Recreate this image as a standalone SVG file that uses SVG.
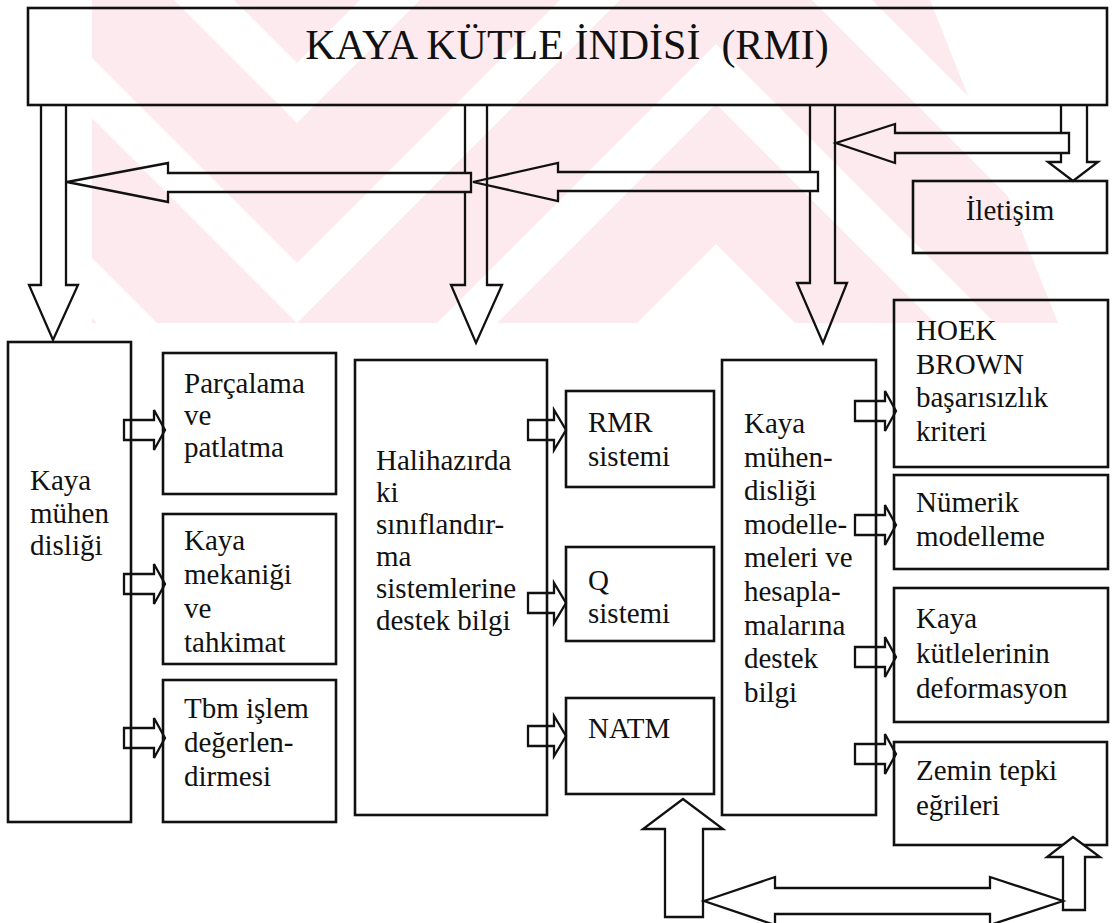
<svg xmlns="http://www.w3.org/2000/svg" width="1112" height="923" viewBox="0 0 1112 923">
<defs>
<style>
.box{fill:none;stroke:#111;stroke-width:2.6}
.ln{fill:none;stroke:#111;stroke-width:2.3;stroke-linejoin:miter}
.wb{fill:#fff;stroke:#111;stroke-width:2.3;stroke-linejoin:miter}
</style>
<clipPath id="wmclip"><polygon points="92,0 930,0 1058,323 92,323"/></clipPath>
</defs>
<rect width="1112" height="923" fill="#fff"/>
<g id="watermark" clip-path="url(#wmclip)" fill="#fdeaee">
<polygon points="0,-374 297,-77 716,-496 1112,-100 1112,40 716,-356 297,63 0,-234"/>
<polygon points="0,-174 297,123 716,-296 1112,100 1112,240 716,-156 297,263 0,-34"/>
<polygon points="0,26 297,323 716,-96 1112,300 1112,440 716,44 297,463 0,166"/>
<polygon points="0,226 297,523 716,104 1112,500 1112,640 716,244 297,663 0,366"/>
</g>

<g id="nodes" fill="#111">
<g id="n_top"><rect class="box" x="28" y="8" width="1079" height="97"/>
<text font-family="Liberation Serif" font-size="42" x="567" y="59" text-anchor="middle" xml:space="preserve">KAYA KÜTLE İNDİSİ  (RMI)</text></g>

<g id="n_iletisim"><rect class="box" x="913" y="181" width="194" height="72"/>
<text font-family="Liberation Serif" font-size="29" x="1010" y="220" text-anchor="middle">İletişim</text></g>

<g id="n_kaya"><rect class="box" x="8" y="342" width="123" height="480"/>
<text font-family="Liberation Serif" font-size="29" x="30" y="490">Kaya</text>
<text font-family="Liberation Serif" font-size="29" x="30" y="523">mühen</text>
<text font-family="Liberation Serif" font-size="29" x="30" y="555">disliği</text></g>

<g id="n_parcalama"><rect class="box" x="163" y="353" width="173" height="141"/>
<text font-family="Liberation Serif" font-size="29" x="184" y="393">Parçalama</text>
<text font-family="Liberation Serif" font-size="29" x="184" y="425">ve</text>
<text font-family="Liberation Serif" font-size="29" x="184" y="457">patlatma</text></g>

<g id="n_mekanik"><rect class="box" x="163" y="514" width="173" height="150"/>
<text font-family="Liberation Serif" font-size="29" x="184" y="550">Kaya</text>
<text font-family="Liberation Serif" font-size="29" x="184" y="584">mekaniği</text>
<text font-family="Liberation Serif" font-size="29" x="184" y="618">ve</text>
<text font-family="Liberation Serif" font-size="29" x="184" y="652">tahkimat</text></g>

<g id="n_tbm"><rect class="box" x="163" y="680" width="173" height="142"/>
<text font-family="Liberation Serif" font-size="29" x="184" y="718">Tbm işlem</text>
<text font-family="Liberation Serif" font-size="29" x="184" y="752">değerlen-</text>
<text font-family="Liberation Serif" font-size="29" x="184" y="786">dirmesi</text></g>

<g id="n_hali"><rect class="box" x="355" y="360" width="192" height="455"/>
<text font-family="Liberation Serif" font-size="29" x="376" y="470">Halihazırda</text>
<text font-family="Liberation Serif" font-size="29" x="376" y="502">ki</text>
<text font-family="Liberation Serif" font-size="29" x="376" y="534">sınıflandır-</text>
<text font-family="Liberation Serif" font-size="29" x="376" y="566">ma</text>
<text font-family="Liberation Serif" font-size="29" x="376" y="598">sistemlerine</text>
<text font-family="Liberation Serif" font-size="29" x="376" y="630">destek bilgi</text></g>

<g id="n_rmr"><rect class="box" x="566" y="391" width="148" height="96"/>
<text font-family="Liberation Serif" font-size="29" x="588" y="432">RMR</text>
<text font-family="Liberation Serif" font-size="29" x="588" y="466">sistemi</text></g>

<g id="n_q"><rect class="box" x="566" y="547" width="148" height="94"/>
<text font-family="Liberation Serif" font-size="29" x="588" y="590">Q</text>
<text font-family="Liberation Serif" font-size="29" x="588" y="623">sistemi</text></g>

<g id="n_natm"><rect class="box" x="566" y="698" width="148" height="96"/>
<text font-family="Liberation Serif" font-size="29" x="588" y="738">NATM</text></g>

<g id="n_model"><rect class="box" x="722" y="360" width="154" height="455"/>
<text font-family="Liberation Serif" font-size="29" x="744" y="433">Kaya</text>
<text font-family="Liberation Serif" font-size="29" x="744" y="467">mühen-</text>
<text font-family="Liberation Serif" font-size="29" x="744" y="500">disliği</text>
<text font-family="Liberation Serif" font-size="29" x="744" y="534">modelle-</text>
<text font-family="Liberation Serif" font-size="29" x="744" y="567">meleri ve</text>
<text font-family="Liberation Serif" font-size="29" x="744" y="601">hesapla-</text>
<text font-family="Liberation Serif" font-size="29" x="744" y="635">malarına</text>
<text font-family="Liberation Serif" font-size="29" x="744" y="668">destek</text>
<text font-family="Liberation Serif" font-size="29" x="744" y="702">bilgi</text></g>

<g id="n_hoek"><rect class="box" x="894" y="300" width="214" height="167"/>
<text font-family="Liberation Serif" font-size="29" x="916" y="340">HOEK</text>
<text font-family="Liberation Serif" font-size="29" x="916" y="374">BROWN</text>
<text font-family="Liberation Serif" font-size="29" x="916" y="407">başarısızlık</text>
<text font-family="Liberation Serif" font-size="29" x="916" y="441">kriteri</text></g>

<g id="n_numerik"><rect class="box" x="894" y="475" width="214" height="94"/>
<text font-family="Liberation Serif" font-size="29" x="916" y="512">Nümerik</text>
<text font-family="Liberation Serif" font-size="29" x="916" y="546">modelleme</text></g>

<g id="n_deform"><rect class="box" x="894" y="588" width="214" height="134"/>
<text font-family="Liberation Serif" font-size="29" x="916" y="628">Kaya</text>
<text font-family="Liberation Serif" font-size="29" x="916" y="663">kütlelerinin</text>
<text font-family="Liberation Serif" font-size="29" x="916" y="698">deformasyon</text></g>

<g id="n_zemin"><rect class="box" x="894" y="742" width="213" height="103"/>
<text font-family="Liberation Serif" font-size="29" x="916" y="780">Zemin tepki</text>
<text font-family="Liberation Serif" font-size="29" x="916" y="815">eğrileri</text></g>
</g>

<g id="connectors">
<path class="ln" d="M41,105 V285 H29 L53,340 L78,285 H66 V105"/>
<path class="ln" d="M465,105 V173 M465,192 V285 H451 L476,343 L502,285 H487 V105"/>
<path class="ln" d="M810,105 V172 M810,191 V283 H797 L823,343 L847,283 H835 V105"/>
<path class="ln" d="M1061,105 V133 M1061,153 V162 H1048 L1073,181 L1098,162 H1087 V105"/>
<polygon class="ln" points="471,173 168,173 168,163 67,182 168,202 168,192 471,192"/>
<polygon class="ln" points="818,172 558,172 558,163 473,182 558,201 558,191 818,191"/>
<polygon class="ln" points="1069,133 895,133 895,124 836,143 895,163 895,153 1069,153"/>
<polygon class="ln" points="124,420 154,420 154,410 165,430 154,450 154,440 124,440"/>
<polygon class="ln" points="124,574 154,574 154,564 165,584 154,604 154,594 124,594"/>
<polygon class="ln" points="124,728 154,728 154,718 165,738 154,758 154,748 124,748"/>
<polygon class="ln" points="528,420 554,420 554,410 566,430 554,450 554,440 528,440"/>
<polygon class="ln" points="528,593 554,593 554,583 566,603 554,623 554,613 528,613"/>
<polygon class="ln" points="528,726 554,726 554,716 566,736 554,756 554,746 528,746"/>
<polygon class="ln" points="855,401 885,401 885,391 896,411 885,431 885,421 855,421"/>
<polygon class="ln" points="855,515 885,515 885,505 896,525 885,545 885,535 855,535"/>
<polygon class="ln" points="855,647 885,647 885,637 896,657 885,677 885,667 855,667"/>
<polygon class="ln" points="855,744 885,744 885,734 896,754 885,774 885,764 855,764"/>
<polygon class="wb" points="665,917 665,829 643,829 683,799 723,829 703,829 703,917"/>
<polygon class="wb" points="1063,910 1063,857 1047,857 1073,837 1100,857 1085,857 1085,910"/>
<polygon class="wb" points="704,901 775,877 775,888 990,888 990,877 1063,901 990,925 990,914 775,914 775,925"/>
</g>
</svg>
